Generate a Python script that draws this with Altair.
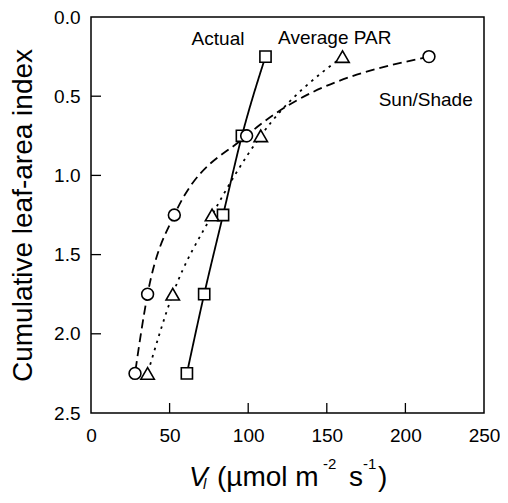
import altair as alt
import pandas as pd

# --- data ---
lai = [0.25, 0.75, 1.25, 1.75, 2.25]
actual = [111, 96, 84, 72, 61]
average_par = [160, 108, 77, 52, 36]
sun_shade = [215, 99, 53, 36, 28]

series_names = ["Actual", "Average PAR", "Sun/Shade"]

# annotation labels (data coordinates: left edge x, baseline lai)
ann_text = ["Actual", "Average PAR", "Sun/Shade"]
ann_x = [64, 119, 183]
ann_y = [0.175, 0.17, 0.56]

x_ticks = [0, 50, 100, 150, 200, 250]
y_ticks = [0.0, 0.5, 1.0, 1.5, 2.0, 2.5]
x_inner_ticks = [50, 100, 150, 200]
y_inner_ticks = [0.5, 1.0, 1.5, 2.0]

W, H = 393, 396
FONT = "Liberation Sans"

rows = []
for name, vals in zip(series_names, [actual, average_par, sun_shade]):
    for v, l in zip(vals, lai):
        rows.append({"series": name, "vl": v, "lai": l})
df = pd.DataFrame(rows)

xscale = alt.Scale(domain=[0, 250], nice=False, zero=False)
yscale = alt.Scale(domain=[0, 2.5], nice=False, reverse=True, zero=False)

xaxis = alt.Axis(values=x_ticks, title=None, grid=False, domain=False, ticks=False,
                 labelFont=FONT, labelFontSize=19, labelColor="black", labelPadding=13,
                 labelFlush=False, labelOverlap=False)
yaxis = alt.Axis(values=y_ticks, format=".1f", grid=False, domain=False, ticks=False,
                 labelFont=FONT, labelFontSize=19, labelColor="black", labelPadding=11,
                 labelFlush=False, labelOverlap=False,
                 title="Cumulative leaf-area index", titleFont=FONT, titleFontSize=28,
                 titleFontWeight="normal", titleColor="black", titleAngle=270,
                 titleAlign="center", titleBaseline="alphabetic", titleX=-60, titleY=H / 2)

dash_scale = alt.Scale(domain=series_names, range=[[1, 0], [2.5, 5], [9, 5]])
marker_shapes = {"Actual": ("square", 125), "Average PAR": ("triangle-up", 180), "Sun/Shade": ("circle", 140)}

base = alt.Chart(df)

lines = base.mark_line(color="black", strokeWidth=1.8, interpolate="monotone").encode(
    x=alt.X("vl:Q", scale=xscale, axis=xaxis),
    y=alt.Y("lai:Q", scale=yscale, axis=yaxis),
    strokeDash=alt.StrokeDash("series:N", scale=dash_scale, legend=None),
    detail="series:N",
    order="lai:Q",
)

point_layers = []
for name in series_names:
    shp, sz = marker_shapes[name]
    point_layers.append(
        base.transform_filter(alt.datum.series == name).mark_point(
            shape=shp, size=sz, filled=False, fill="white", fillOpacity=1,
            stroke="black", strokeWidth=1.6, opacity=1
        ).encode(
            x=alt.X("vl:Q", scale=xscale),
            y=alt.Y("lai:Q", scale=yscale),
        )
    )

ann_df = pd.DataFrame({"t": ann_text, "x": ann_x, "y": ann_y})
annotations = alt.Chart(ann_df).mark_text(
    align="left", baseline="alphabetic", font=FONT, fontSize=19, color="black"
).encode(
    x=alt.X("x:Q", scale=xscale),
    y=alt.Y("y:Q", scale=yscale),
    text="t:N",
)

yt = alt.Chart(pd.DataFrame({"v": y_inner_ticks})).mark_rule(color="black", strokeWidth=1.3).encode(
    y=alt.Y("v:Q", scale=yscale), x=alt.value(0), x2=alt.value(10)
)
xt = alt.Chart(pd.DataFrame({"v": x_inner_ticks})).mark_rule(color="black", strokeWidth=1.3).encode(
    x=alt.X("v:Q", scale=xscale), y=alt.value(H - 10), y2=alt.value(H)
)

one = pd.DataFrame({"k": [0]})


def piece(text, px, py, size, style="normal"):
    return alt.Chart(one).mark_text(
        text=text, align="left", baseline="alphabetic", font=FONT, fontSize=size,
        fontStyle=style, color="black"
    ).encode(x=alt.value(px), y=alt.value(py))


xtitle = [
    piece("V", 98, 469, 28, "italic"),
    piece("l", 112, 472, 15, "italic"),
    piece("(µmol m", 126, 469, 28),
    piece("-2", 232, 452, 15),
    piece("s", 258, 469, 28),
    piece("-1", 272, 452, 15),
    piece(")", 287, 469, 28),
]

chart = alt.layer(yt, xt, lines, *point_layers, annotations, *xtitle).properties(
    width=W, height=H,
    autosize=alt.AutoSizeParams(type="none"),
    padding={"left": 83, "top": 9, "right": 16, "bottom": 79},
    background="white",
).configure_view(stroke="black", strokeWidth=1.5).resolve_scale(
    x="shared", y="shared"
)

chart.save("out.html", embed_options={"renderer": "svg", "actions": False})
